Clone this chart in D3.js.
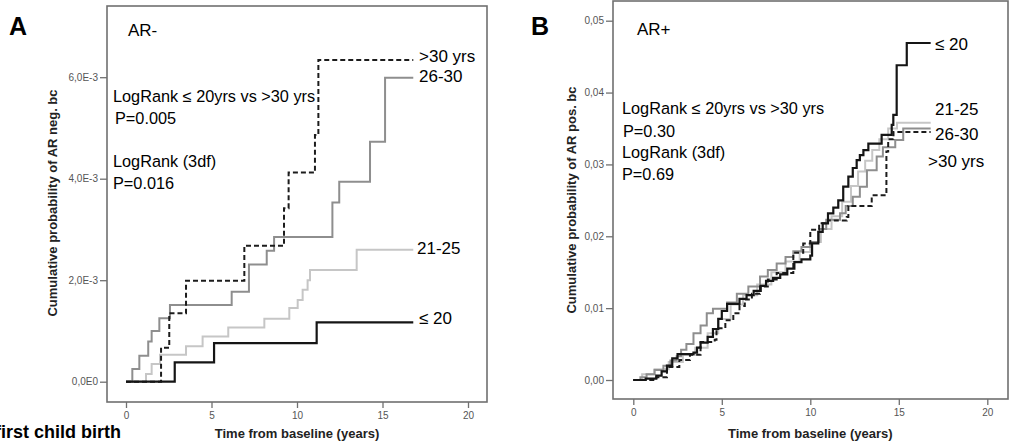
<!DOCTYPE html>
<html>
<head>
<meta charset="utf-8">
<script src="https://cdn.jsdelivr.net/npm/d3@7"></script>
<style>
  body { margin: 0; background: #fff; overflow: hidden; }
  svg { display: block; }
</style>
</head>
<body>
<script>
// ---- data: step points [time (years), cumulative probability] ----
const groups = ["≤ 20", "21-25", "26-30", ">30 yrs"];

// Panel A, AR negative
const negLe20 = [[0, 0], [2.85, 0.00038], [5.15, 0.00076], [11.15, 0.00117]];
const neg21to25 = [[0, 0], [1.17, 0.00015], [1.5, 0.00035], [1.99, 0.00053], [3.51, 0.0007], [4.48, 0.00089],
  [5.98, 0.00107], [8.09, 0.00124], [9.55, 0.00145], [10.04, 0.00161], [10.33, 0.00181], [10.62, 0.002],
  [10.76, 0.0022], [13.49, 0.0026]];
const neg26to30 = [[0, 0], [0.37, 0.00025], [0.78, 0.00051], [1.3, 0.00079], [1.5, 0.001], [1.95, 0.00125],
  [2.57, 0.00151], [6.18, 0.00177], [7.19, 0.00231], [8.23, 0.00258], [8.66, 0.00285], [12.07, 0.00353],
  [12.47, 0.00394], [14.27, 0.00473], [15.15, 0.00599]];
const negGt30 = [[0, 0], [2.05, 0.00067], [2.53, 0.00135], [3.51, 0.00199], [6.92, 0.00268], [9.24, 0.00342],
  [9.51, 0.00412], [11.05, 0.00486], [11.25, 0.00634]];

// Panel B, AR positive
const posLe20 = [[0, 0], [0.7, 0.0002], [1.3, 0.0006], [1.6, 0.0012], [1.9, 0.002], [2.2, 0.003], [2.5, 0.0036],
  [3.4, 0.0038], [3.6, 0.0045], [3.8, 0.0052], [4.2, 0.006], [4.5, 0.0071], [4.8, 0.0085], [5.0, 0.0096],
  [5.3, 0.0106], [6.0, 0.0113], [6.4, 0.0118], [6.8, 0.0124], [7.2, 0.0131], [7.5, 0.0138], [7.9, 0.0142],
  [8.3, 0.0147], [8.7, 0.0155], [9.1, 0.0164], [9.5, 0.0168], [10.0, 0.0173], [10.1, 0.019], [10.45, 0.0206],
  [10.7, 0.0218], [11.0, 0.0232], [11.3, 0.024], [11.58, 0.025], [11.86, 0.0269], [12.15, 0.0283],
  [12.4, 0.0295], [12.62, 0.0306], [12.8, 0.0313], [13.0, 0.032], [13.28, 0.0329], [14.03, 0.0341],
  [14.6, 0.0355], [14.69, 0.0369], [14.88, 0.0438], [15.45, 0.0469]];
const pos21to25 = [[0, 0], [0.5, 0.0008], [1.2, 0.0015], [2.0, 0.0025], [2.8, 0.0035], [3.5, 0.0045],
  [4.2, 0.0065], [4.8, 0.0085], [5.5, 0.0105], [6.2, 0.0118], [7.0, 0.0133], [7.8, 0.015], [8.6, 0.0165],
  [9.4, 0.0178], [10.0, 0.0192], [10.6, 0.021], [11.2, 0.0228], [11.8, 0.0248], [12.3, 0.027], [12.7, 0.029],
  [13.1, 0.0305], [13.5, 0.032], [13.9, 0.0335], [14.4, 0.035], [14.9, 0.0358]];
const pos26to30 = [[0, 0], [0.4, 0.0004], [0.75, 0.0008], [1.2, 0.0014], [1.7, 0.002], [2.1, 0.0027],
  [2.45, 0.0033], [2.7, 0.0042], [3.0, 0.005], [3.4, 0.0065], [3.8, 0.0076], [4.15, 0.0093], [4.5, 0.0099],
  [5.3, 0.0108], [5.85, 0.012], [6.5, 0.013], [7.16, 0.0144], [7.6, 0.0153], [8.1, 0.0162], [8.6, 0.0171],
  [9.04, 0.0179], [9.5, 0.0185], [10.0, 0.0192], [10.5, 0.021], [10.9, 0.0223], [11.68, 0.0232],
  [12.0, 0.0242], [12.4, 0.0255], [12.8, 0.0269], [13.2, 0.0292], [13.75, 0.0311], [14.1, 0.0324],
  [14.8, 0.0334], [15.25, 0.035]];
const posGt30 = [[0, 0], [1.3, 0.0004], [1.9, 0.0018], [2.6, 0.0028], [3.2, 0.0035], [3.8, 0.0053],
  [4.6, 0.0056], [4.7, 0.0072], [5.2, 0.0083], [5.65, 0.0093], [6.0, 0.0103], [6.3, 0.0112], [6.7, 0.012],
  [7.16, 0.013], [7.6, 0.014], [8.1, 0.0149], [9.04, 0.0177], [9.6, 0.019], [10.0, 0.0209], [10.5, 0.0218],
  [11.0, 0.0222], [12.06, 0.0227], [12.15, 0.0242], [13.47, 0.0257], [14.3, 0.0318], [14.4, 0.0335],
  [14.7, 0.0345]];

const followUpEnd = 16.8;
const xTicks = [0, 5, 10, 15, 20];
const negYTicks = [0, 0.002, 0.004, 0.006];
const negYTickLabels = ["0,0E0", "2,0E-3", "4,0E-3", "6,0E-3"];
const posYTicks = [0, 0.01, 0.02, 0.03, 0.04, 0.05];
const posYTickLabels = ["0,00", "0,01", "0,02", "0,03", "0,04", "0,05"];

const width = 1017, height = 442;
const svg = d3.select("body").append("svg")
  .attr("width", width)
  .attr("height", height);

const textFont = "'Liberation Sans', Arial, sans-serif";

// line style per group, same order as groups
const styles = [
  {stroke: "#151515", width: 2.2, dash: null},
  {stroke: "#c6c6c6", width: 2, dash: null},
  {stroke: "#8e8e8e", width: 2, dash: null},
  {stroke: "#1c1c1c", width: 2, dash: "5,3"}
];
const drawOrder = [1, 2, 3, 0];

function drawPanel(p) {
  const g = svg.append("g");
  const x = d3.scaleLinear().domain([0, 20]).range(p.xRange);
  const y = d3.scaleLinear().domain(p.yDomain).range(p.yRange);

  // frame
  g.append("rect")
    .attr("x", p.frame[0]).attr("y", p.frame[1])
    .attr("width", p.frame[2] - p.frame[0]).attr("height", p.frame[3] - p.frame[1])
    .attr("fill", "none").attr("stroke", "#707070").attr("stroke-width", 1.6);

  // axes
  const xAxis = d3.axisBottom(x).tickValues(xTicks).tickSize(6).tickPadding(4);
  g.append("g")
    .attr("transform", `translate(0,${p.frame[3]})`)
    .call(xAxis)
    .call(a => a.select(".domain").remove());

  const yAxis = d3.axisLeft(y).tickValues(p.yTicks)
    .tickFormat((d, i) => p.yTickLabels[i]).tickSize(7).tickPadding(2);
  g.append("g")
    .attr("transform", `translate(${p.frame[0]},0)`)
    .call(yAxis)
    .call(a => a.select(".domain").remove());

  g.selectAll(".tick line").attr("stroke", "#707070").attr("stroke-width", 1.3);
  g.selectAll(".tick text").attr("fill", "#555").style("font-size", "10px")
    .style("font-family", textFont);

  // axis titles
  g.append("text")
    .attr("x", x(10)).attr("y", 438)
    .attr("text-anchor", "middle")
    .style("font-family", textFont).style("font-weight", "bold").style("font-size", "13px")
    .attr("fill", "#222")
    .text("Time from baseline (years)");

  g.append("text")
    .attr("transform", `translate(${p.yTitleX},${p.yTitleY}) rotate(-90)`)
    .attr("text-anchor", "middle")
    .style("font-family", textFont).style("font-weight", "bold").style("font-size", "13px")
    .attr("fill", "#222")
    .text(p.yTitle);

  // curves
  const line = d3.line()
    .x(d => x(d[0]))
    .y(d => y(d[1]))
    .curve(d3.curveStepAfter);

  drawOrder.forEach(i => {
    const pts = p.series[i].concat([[followUpEnd, p.series[i][p.series[i].length - 1][1]]]);
    const s = styles[i];
    g.append("path")
      .datum(pts)
      .attr("d", line)
      .attr("fill", "none")
      .attr("stroke", s.stroke)
      .attr("stroke-width", s.width)
      .attr("stroke-dasharray", s.dash);
  });

  // panel letter and subgroup title
  g.append("text")
    .attr("x", p.letterPos[0]).attr("y", p.letterPos[1])
    .style("font-family", textFont).style("font-weight", "bold").style("font-size", "25px")
    .text(p.letter);
  g.append("text")
    .attr("x", p.titlePos[0]).attr("y", p.titlePos[1])
    .style("font-family", textFont).style("font-size", "17px")
    .text(p.title);

  // log rank notes
  p.notes.forEach(n => {
    g.append("text")
      .attr("x", n[0]).attr("y", n[1])
      .style("font-family", textFont).style("font-size", "16.3px")
      .text(n[2]);
  });

  // group labels at the line ends
  groups.forEach((name, i) => {
    g.append("text")
      .attr("x", p.labelPos[i][0]).attr("y", p.labelPos[i][1])
      .style("font-family", textFont).style("font-size", "17px")
      .text(name);
  });
}

drawPanel({
  letter: "A", letterPos: [9, 35],
  title: "AR-", titlePos: [128, 36],
  frame: [107, 6, 487, 402],
  xRange: [126, 468],
  yDomain: [0, 0.006], yRange: [381.7, 77.2],
  yTicks: negYTicks, yTickLabels: negYTickLabels,
  yTitle: "Cumulative probability of AR neg. bc", yTitleX: 57, yTitleY: 203,
  series: [negLe20, neg21to25, neg26to30, negGt30],
  notes: [[113, 102, "LogRank ≤ 20yrs vs >30 yrs"], [115, 124, " P=0.005"],
          [113, 167, "LogRank (3df)"], [113, 189, "P=0.016"]],
  labelPos: [[419, 324], [417, 254], [419, 82], [419, 62]]
});

drawPanel({
  letter: "B", letterPos: [531, 35],
  title: "AR+", titlePos: [637, 35],
  frame: [613, 1, 1008, 399],
  xRange: [633.3, 987.3],
  yDomain: [0, 0.05], yRange: [380, 20.7],
  yTicks: posYTicks, yTickLabels: posYTickLabels,
  yTitle: "Cumulative probability of AR pos. bc", yTitleX: 576, yTitleY: 200,
  series: [posLe20, pos21to25, pos26to30, posGt30],
  notes: [[622, 114, "LogRank ≤ 20yrs vs >30 yrs"], [623, 137, " P=0.30"],
          [622, 158, "LogRank (3df)"], [622, 180, "P=0.69"]],
  labelPos: [[935, 50], [935, 115], [935, 140], [928, 167]]
});

// caption cut by the left edge, as in the source figure
svg.append("text")
  .attr("x", 121).attr("y", 438)
  .attr("text-anchor", "end")
  .style("font-family", textFont).style("font-weight", "bold").style("font-size", "18px")
  .text("Age at first child birth");
</script>
</body>
</html>
